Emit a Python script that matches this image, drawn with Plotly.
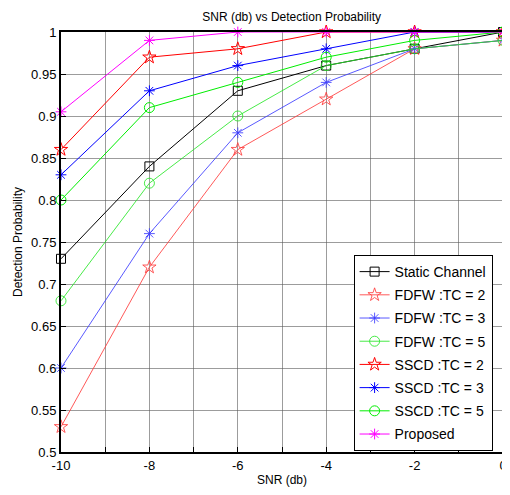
import plotly.graph_objects as go

snr = [-10, -8, -6, -4, -2, 0]
static_channel = [0.73, 0.84, 0.93, 0.96, 0.98, 1.0]
fdfw_tc2 = [0.53, 0.72, 0.86, 0.92, 0.98, 0.99]
fdfw_tc3 = [0.60, 0.76, 0.88, 0.94, 0.98, 0.99]
fdfw_tc5 = [0.68, 0.82, 0.90, 0.96, 0.98, 0.99]
sscd_tc2 = [0.86, 0.97, 0.98, 1.0, 1.0, 1.0]
sscd_tc3 = [0.83, 0.93, 0.96, 0.98, 1.0, 1.0]
sscd_tc5 = [0.80, 0.91, 0.94, 0.97, 0.99, 1.0]
proposed = [0.905, 0.99, 1.0, 1.0, 1.0, 1.0]

x_tickvals = [-10, -9, -8, -7, -6, -5, -4, -3, -2, -1, 0]
x_ticktext = ["-10", "", "-8", "", "-6", "", "-4", "", "-2", "", "0"]
y_tickvals = [0.5, 0.55, 0.6, 0.65, 0.7, 0.75, 0.8, 0.85, 0.9, 0.95, 1.0]
y_ticktext = ["0.5", "0.55", "0.6", "0.65", "0.7", "0.75", "0.8", "0.85", "0.9", "0.95", "1"]

series = [
    ("Static Channel", static_channel, "black", "square-open", 9),
    ("FDFW :TC = 2", fdfw_tc2, "rgba(255,60,60,0.85)", "star-open", 10),
    ("FDFW :TC = 3", fdfw_tc3, "rgba(60,60,255,0.85)", "asterisk-open", 9),
    ("FDFW :TC = 5", fdfw_tc5, "rgba(40,230,40,0.85)", "circle-open", 10),
    ("SSCD :TC = 2", sscd_tc2, "#ff0000", "star-open", 10),
    ("SSCD :TC = 3", sscd_tc3, "#0000ff", "asterisk-open", 9),
    ("SSCD :TC = 5", sscd_tc5, "#00ee00", "circle-open", 10),
    ("Proposed", proposed, "#ff00ff", "asterisk-open", 9),
]

fig = go.Figure()
for i, (name, vals, color, sym, size) in enumerate(series):
    fig.add_trace(go.Scatter(
        x=snr, y=vals, name=name, mode="lines+markers", legendgroup=f"g{i}",
        line=dict(color=color, width=1),
        marker=dict(symbol=sym, size=size, color=color, line=dict(color=color, width=1)),
        cliponaxis=False,
    ))

axis_common = dict(
    showline=True, linecolor="black", linewidth=2, mirror=True,
    ticks="inside", ticklen=5, tickcolor="black",
    showgrid=True, gridcolor="rgba(90,90,90,0.6)", gridwidth=1,
    zeroline=False,
    tickfont=dict(family="Liberation Sans, Arial", size=13, color="black"),
)

fig.update_layout(
    width=502, height=487,
    margin=dict(l=53, r=3, t=24, b=43),
    paper_bgcolor="white", plot_bgcolor="white",
    title=dict(text="SNR (db) vs Detection Probability", x=0.565, xanchor="center",
               y=0.982, yanchor="middle",
               font=dict(family="Liberation Sans, Arial", size=12, color="black")),
    xaxis=dict(range=[-10, 0], tickvals=x_tickvals, ticktext=x_ticktext,
               title=dict(text="SNR (db)", standoff=4,
                          font=dict(family="Liberation Sans, Arial", size=12, color="black")),
               **axis_common),
    yaxis=dict(range=[0.5, 1], tickvals=y_tickvals, ticktext=y_ticktext,
               title=dict(text="Detection Probability", standoff=6,
                          font=dict(family="Liberation Sans, Arial", size=12, color="black")),
               **axis_common),
    legend=dict(x=0.662, y=0.469, xanchor="left", yanchor="top",
                bgcolor="white", bordercolor="black", borderwidth=1,
                font=dict(family="Liberation Sans, Arial", size=14, color="black"),
                tracegroupgap=2),
    showlegend=True,
)

fig.write_html("out.html")
